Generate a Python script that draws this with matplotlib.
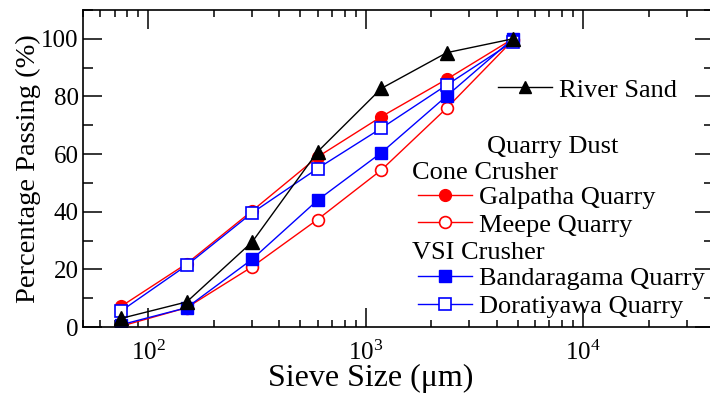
import matplotlib
matplotlib.use("Agg")
import matplotlib.pyplot as plt
from matplotlib.lines import Line2D
from matplotlib.ticker import LogLocator, MultipleLocator

# sieve sizes (um) and percentage passing
sieve_um = [75, 150, 300, 600, 1180, 2360, 4750]
river_sand = [3.0, 8.7, 29.5, 60.8, 82.8, 95.2, 100.0]
galpatha = [7.2, 22.0, 40.3, 59.0, 73.0, 86.0, 100.0]
meepe = [0.3, 6.7, 20.9, 37.3, 54.5, 76.0, 99.5]
bandaragama = [0.8, 6.7, 23.5, 44.0, 60.5, 80.2, 100.0]
doratiyawa = [5.6, 21.4, 39.6, 55.0, 69.0, 84.0, 99.0]

plt.rcParams["font.family"] = ["Liberation Serif", "DejaVu Serif"]
plt.rcParams["mathtext.fontset"] = "stix"

W, H = 710, 395
fig = plt.figure(figsize=(W / 100, H / 100), dpi=100)
# axes runs a little past the right edge like the reference crop
ax_l, ax_r, ax_t, ax_b = 83, 714, 10, 327
ax = fig.add_axes([ax_l / W, 1 - ax_b / H, (ax_r - ax_l) / W, (ax_b - ax_t) / H])


def afrac(px, py):
    # pixel position -> axes fraction
    return (px - ax_l) / (ax_r - ax_l), (ax_b - py) / (ax_b - ax_t)


ms = 8.5
lw = 1.0
red, blue = "#ff0000", "#0000ff"
ax.plot(sieve_um, galpatha, "-o", color=red, lw=lw, ms=ms, mec=red, mfc=red)
ax.plot(sieve_um, meepe, "-o", color=red, lw=lw, ms=ms, mec=red, mfc="white", mew=1.2)
ax.plot(sieve_um, bandaragama, "-s", color=blue, lw=lw, ms=ms, mec=blue, mfc=blue)
ax.plot(sieve_um, doratiyawa, "-s", color=blue, lw=lw, ms=ms, mec=blue, mfc="white", mew=1.2)
ax.plot(sieve_um, river_sand, "-^", color="black", lw=lw, ms=ms + 1, mec="black", mfc="black")

ax.set_xscale("log")
ax.set_xlim(50, 40000)
ax.set_ylim(0, 110)
ax.xaxis.set_major_locator(LogLocator(base=10))
ax.xaxis.set_minor_locator(LogLocator(base=10, subs=range(2, 10)))
ax.yaxis.set_major_locator(MultipleLocator(20))
ax.yaxis.set_minor_locator(MultipleLocator(10))

ax.tick_params(which="both", direction="in", top=True, right=True, width=1.1,
               labelsize=18)
ax.tick_params(which="major", length=13.7)
ax.tick_params(axis="x", which="minor", length=5)
ax.tick_params(axis="y", which="minor", length=7)
ax.tick_params(axis="x", which="major", pad=10)
ax.tick_params(axis="y", which="major", pad=3)
for s in ax.spines.values():
    s.set_linewidth(1.2)

ax.set_xlabel("Sieve Size (μm)", fontsize=23)
ax.xaxis.set_label_coords(afrac(371, 0)[0], afrac(0, 364)[1])
ax.set_ylabel("Percentage Passing (%)", fontsize=20.5, labelpad=0)

# legends
fs = 19
common = dict(frameon=False, fontsize=fs, handlelength=2.05, handletextpad=0.25,
              borderpad=0, borderaxespad=0, labelspacing=0.17, loc="center left")

h_river = Line2D([], [], color="black", lw=lw, marker="^", ms=ms, mfc="black")
leg1 = ax.legend([h_river], ["River Sand"], bbox_to_anchor=afrac(498, 90), **common)
ax.add_artist(leg1)

h_gal = Line2D([], [], color=red, lw=lw, marker="o", ms=ms, mfc=red, mec=red)
h_mee = Line2D([], [], color=red, lw=lw, marker="o", ms=ms, mfc="white", mec=red, mew=1.2)
leg2 = ax.legend([h_gal, h_mee], ["Galpatha Quarry", "Meepe Quarry"],
                 bbox_to_anchor=afrac(418, 211), **common)
ax.add_artist(leg2)

h_ban = Line2D([], [], color=blue, lw=lw, marker="s", ms=ms, mfc=blue, mec=blue)
h_dor = Line2D([], [], color=blue, lw=lw, marker="s", ms=ms, mfc="white", mec=blue, mew=1.2)
leg3 = ax.legend([h_ban, h_dor], ["Bandaragama Quarry", "Doratiyawa Quarry"],
                 bbox_to_anchor=afrac(418, 292.5), **common)

ax.text(*afrac(487, 153), "Quarry Dust", transform=ax.transAxes, fontsize=fs, va="baseline")
ax.text(*afrac(412, 179), "Cone Crusher", transform=ax.transAxes, fontsize=fs, va="baseline")
ax.text(*afrac(412, 259), "VSI Crusher", transform=ax.transAxes, fontsize=fs, va="baseline")

fig.savefig("out.png", dpi=100)
